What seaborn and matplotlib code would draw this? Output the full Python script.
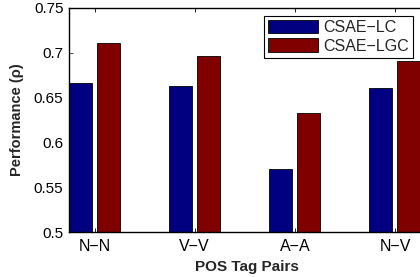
import matplotlib
matplotlib.use("Agg")

import matplotlib.pyplot as plt

import seaborn as sns

import pandas as pd



# ==================================================
# Data
# ==================================================

TAG_PAIRS = ["N\u2212N", "V\u2212V", "A\u2212A", "N\u2212V"]

METHODS = ["CSAE\u2212LC", "CSAE\u2212LGC"]

CSAE_LC = [0.666, 0.663, 0.570, 0.660]

CSAE_LGC = [0.711, 0.696, 0.633, 0.691]

Y_TICKS = [0.5, 0.55, 0.6, 0.65, 0.7, 0.75]

Y_TICK_LABELS = ["0.5", "0.55", "0.6", "0.65", "0.7", "0.75"]



df = pd.DataFrame({
    "pair": TAG_PAIRS * 2,
    "method": [METHODS[0]] * 4 + [METHODS[1]] * 4,
    "value": CSAE_LC + CSAE_LGC,
})



# ==================================================
# Style
# ==================================================

sns.set_theme(style="ticks")

plt.rcParams["font.family"] = ["Liberation Sans", "DejaVu Sans"]

plt.rcParams["font.size"] = 10

plt.rcParams["xtick.direction"] = "in"

plt.rcParams["ytick.direction"] = "in"

plt.rcParams["axes.edgecolor"] = "black"

plt.rcParams["axes.linewidth"] = 1.0



# ==================================================
# Plot
# ==================================================

fig = plt.figure(figsize=(4.2, 2.77), dpi=100)

ax = fig.add_axes([69 / 420, 1 - 232 / 277, 356 / 420, 224.3 / 277])

sns.barplot(
    data=df,
    x="pair",
    y="value",
    hue="method",
    palette=["#000080", "#800000"],
    width=0.56,
    gap=0.18,
    edgecolor="black",
    linewidth=0.6,
    saturation=1,
    ax=ax
)

ax.set_xlim(-0.255, 3.3)

ax.set_ylim(0.5, 0.75)

ax.set_yticks(Y_TICKS)

ax.set_yticklabels(Y_TICK_LABELS, fontsize=11, color="black")

ax.tick_params(axis="x", labelsize=11.5, colors="black", length=3, width=0.6,
               top=True, pad=5)

ax.tick_params(axis="y", length=3, width=0.6, right=True, pad=4)

for side in ["top", "right"]:
    ax.spines[side].set_visible(True)

ax.set_xlabel("POS Tag Pairs", fontsize=11, fontweight="bold", labelpad=4)

ax.set_ylabel("Performance (\u03c1)", fontsize=10.5, fontweight="bold",
              labelpad=7)

ax.legend(
    loc="upper right",
    bbox_to_anchor=(413 / 420, 1 - 15.7 / 277),
    bbox_transform=fig.transFigure,
    borderaxespad=0,
    frameon=True,
    fancybox=False,
    edgecolor="black",
    framealpha=1,
    fontsize=11.5,
    handlelength=3.1,
    handleheight=0.95,
    handletextpad=0.35,
    labelspacing=0.2,
    borderpad=0.25,
    title=None
).get_frame().set_linewidth(0.8)

fig.savefig("out.png", dpi=100)

plt.close(fig)
